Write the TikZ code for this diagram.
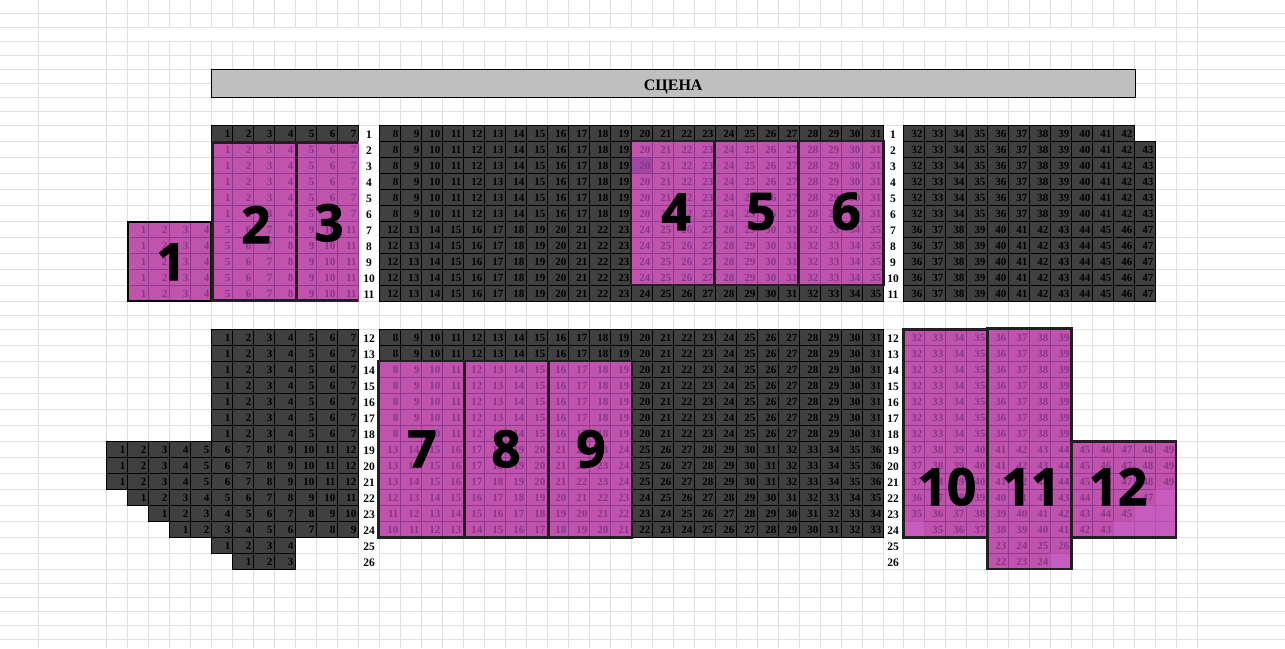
\documentclass[tikz,border=0pt]{standalone}
\usepackage{fontspec}
\setmainfont{Liberation Serif}
\newfontfamily\zonefont{Open Sans}[BoldFeatures={FakeBold=2}]
\usetikzlibrary{calc}
\definecolor{hallGrid}{RGB}{224,224,224}
\definecolor{seatDark}{RGB}{64,64,64}
\definecolor{stageGrey}{RGB}{191,191,191}
\definecolor{freeFill}{RGB}{192,84,172}
\definecolor{freeLine}{RGB}{145,55,145}
\definecolor{freeText}{RGB}{138,52,142}
\definecolor{blankFill}{RGB}{197,92,190}
\definecolor{blankLine}{RGB}{178,80,172}
\definecolor{pickFill}{RGB}{160,70,165}
\definecolor{zoneRim}{RGB}{35,30,35}
\tikzset{
  soldcell/.style={fill=seatDark, draw=black, line width=0.9pt},
  soldnum/.style={anchor=base east, inner sep=0pt, font=\fontsize{11}{11}\selectfont\bfseries, text=black},
  freecell/.style={fill=freeFill, draw=freeLine, line width=0.9pt},
  freenum/.style={anchor=base east, inner sep=0pt, font=\fontsize{11}{11}\selectfont\bfseries, text=freeText},
  blankcell/.style={fill=blankFill, draw=blankLine, line width=0.7pt},
  rownum/.style={anchor=base, inner sep=0pt, font=\fontsize{11.5}{11.5}\selectfont\bfseries},
  zonerim/.style={draw=zoneRim, line width=2.5pt},
  zonenum/.style={anchor=base, inner sep=0pt, font=\fontsize{51}{51}\selectfont\zonefont\bfseries},
}
% row, left edge, first number, how many, sold or free
\newcommand{\seats}[5]{%
  \pgfmathsetmacro{\rowy}{#1<12 ? 125.3+16*(#1-1) : 329.3+16*(#1-12)}
  \foreach \k in {1,...,#4} {
    \pgfmathsetmacro{\cellx}{#2+21*(\k-1)}
    \pgfmathtruncatemacro{\seatno}{#3+\k-1}
    \draw[#5cell] (\cellx,\rowy) rectangle +(21,16);
    \node[#5num] (s-#1-\seatno) at (\cellx+19.3,\rowy+12) {\seatno};
  }
}
\newcommand{\blanks}[2]{%
  \pgfmathsetmacro{\rowy}{#1<12 ? 125.3+16*(#1-1) : 329.3+16*(#1-12)}
  \draw[blankcell] (#2,\rowy) rectangle +(21,16);
}
\begin{document}
\begin{tikzpicture}[x=1pt, y=-1pt]
    \useasboundingbox (0,0) rectangle (1285,648);
    \fill[white] (0,0) rectangle (1285,648);
    % sheet behind the plan
    \foreach \y in {13.3,27.3,...,125.3,141.3,157.3,...,301.3,315.3,329.3,345.3,...,569.3,583.3,597.3,...,639.3} {
        \draw[hallGrid, line width=1pt] (0,\y) -- (1285,\y);
    }
    \foreach \x in {38.3,106.3,127.3,...,883.3,903.3,924.3,...,1197.3} {
        \draw[hallGrid, line width=1pt] (\x,0) -- (\x,648);
    }
    \fill[white] (127.9,27.9) rectangle (1175.7,40.7);
    \fill[white] (358.8,125.8) rectangle (378.8,300.8);
    \fill[white] (358.8,329.8) rectangle (378.8,568.8);
    \fill[white] (883.8,125.8) rectangle (902.8,300.8);
    \fill[white] (883.8,329.8) rectangle (902.8,568.8);
    % stage
    \node[draw=black, line width=1pt, fill=stageGrey, minimum width=924pt, minimum height=28pt, inner sep=0pt,
          text height=15.6pt, text depth=1pt,
          font=\fontsize{16}{16}\selectfont\bfseries] (stage) at (673.2,83.3) {СЦЕНА};
    % upper block
    \seats{1}{211.3}{1}{7}{sold}
    \seats{1}{379.3}{8}{24}{sold}
    \seats{1}{903.3}{32}{11}{sold}
    \foreach \r in {2,...,6} {
        \seats{\r}{211.3}{1}{7}{free}
        \seats{\r}{379.3}{8}{12}{sold}
        \seats{\r}{631.3}{20}{12}{free}
        \seats{\r}{903.3}{32}{12}{sold}
    }
    \foreach \r in {7,...,10} {
        \seats{\r}{127.3}{1}{4}{free}
        \seats{\r}{211.3}{5}{7}{free}
        \seats{\r}{379.3}{12}{12}{sold}
        \seats{\r}{631.3}{24}{12}{free}
        \seats{\r}{903.3}{36}{12}{sold}
    }
    \seats{11}{127.3}{1}{4}{free}
    \seats{11}{211.3}{5}{7}{free}
    \seats{11}{379.3}{12}{24}{sold}
    \seats{11}{903.3}{36}{12}{sold}
    % lower block
    \foreach \r in {12,13} {
        \seats{\r}{211.3}{1}{7}{sold}
        \seats{\r}{379.3}{8}{24}{sold}
        \seats{\r}{903.3}{32}{8}{free}
    }
    \foreach \r in {14,...,18} {
        \seats{\r}{211.3}{1}{7}{sold}
        \seats{\r}{379.3}{8}{12}{free}
        \seats{\r}{631.3}{20}{12}{sold}
        \seats{\r}{903.3}{32}{8}{free}
    }
    \foreach \r in {19,20,21} {
        \seats{\r}{106.3}{1}{12}{sold}
        \seats{\r}{379.3}{13}{12}{free}
        \seats{\r}{631.3}{25}{12}{sold}
        \seats{\r}{903.3}{37}{13}{free}
    }
    \seats{22}{127.3}{1}{11}{sold}
    \seats{22}{379.3}{12}{12}{free}
    \seats{22}{631.3}{24}{12}{sold}
    \seats{22}{903.3}{36}{12}{free}
    \seats{23}{148.3}{1}{10}{sold}
    \seats{23}{379.3}{11}{12}{free}
    \seats{23}{631.3}{23}{12}{sold}
    \seats{23}{903.3}{35}{11}{free}
    \seats{24}{169.3}{1}{9}{sold}
    \seats{24}{379.3}{10}{12}{free}
    \seats{24}{631.3}{22}{12}{sold}
    \seats{24}{924.3}{35}{9}{free}
    \seats{25}{211.3}{1}{4}{sold}
    \seats{25}{987.3}{23}{4}{free}
    \seats{26}{232.3}{1}{3}{sold}
    \seats{26}{987.3}{22}{3}{free}
    \blanks{22}{1155.3}
    \blanks{23}{1134.3}
    \blanks{23}{1155.3}
    \foreach \x in {1113.3,1134.3,1155.3} {
        \blanks{24}{\x}
    }
    \blanks{24}{903.3}
    \blanks{26}{1050.3}
    % one darker seat in row 3
    \fill[pickFill] (631.8,157.8) rectangle (651.8,172.8);
    \node[anchor=base east, inner sep=0pt, font=\fontsize{11}{11}\selectfont\bfseries, text=freeText] (s-3-20-dark) at (650.6,169.3) {20};
    % row numbers
    \foreach \r in {1,...,26} {
        \pgfmathsetmacro{\rowy}{\r<12 ? 125.3+16*(\r-1) : 329.3+16*(\r-12)}
        \node[rownum] (rl-\r) at (369,\rowy+13.2) {\r};
        \node[rownum] (rr-\r) at (893,\rowy+13.2) {\r};
    }
    % zone outlines
    \draw[draw=black, line width=2.2pt] (127.8,221.8) rectangle (211,300.6);
    \draw[zonerim, line width=2.8pt] (212.6,142.4) rectangle (296.6,300.2);
    \draw[zonerim, line width=2.8pt] (358.3,142.4) -| (296.6,300.2) -- (358.3,300.2);
    \draw[zonerim] (631,141) rectangle (714.6,285);
    \draw[zonerim] (714.6,141) rectangle (798.6,285);
    \draw[zonerim] (798.6,141) rectangle (883.6,285);
    \draw[zonerim] (378.3,361) rectangle (464.6,537.6);
    \draw[zonerim] (464.6,361) rectangle (548.4,537.6);
    \draw[zonerim] (548.4,361) rectangle (632,537.6);
    \draw[zonerim] (903.3,329.3) rectangle (987.7,537.6);
    \draw[zonerim] (1071.8,441.6) rectangle (1176,537.6);
    \draw[zonerim, line width=2.8pt] (987.8,328.6) rectangle (1071.8,569);
    % zone numbers
    \node[zonenum] (z1) at (171,280) {1};
    \node[zonenum] (z2) at (256,243) {2};
    \node[zonenum] (z3) at (329,241) {3};
    \node[zonenum] (z4) at (676,230) {4};
    \node[zonenum] (z5) at (761,229.5) {5};
    \node[zonenum] (z6) at (846,229.5) {6};
    \node[zonenum] (z7) at (422,467) {7};
    \node[zonenum] (z8) at (506,467) {8};
    \node[zonenum] (z9) at (591,467) {9};
    \node[zonenum] (z10) at (947,505) {10};
    \node[zonenum] (z11) at (1031,505) {11};
    \node[zonenum] (z12) at (1118,505) {12};
\end{tikzpicture}
\end{document}
